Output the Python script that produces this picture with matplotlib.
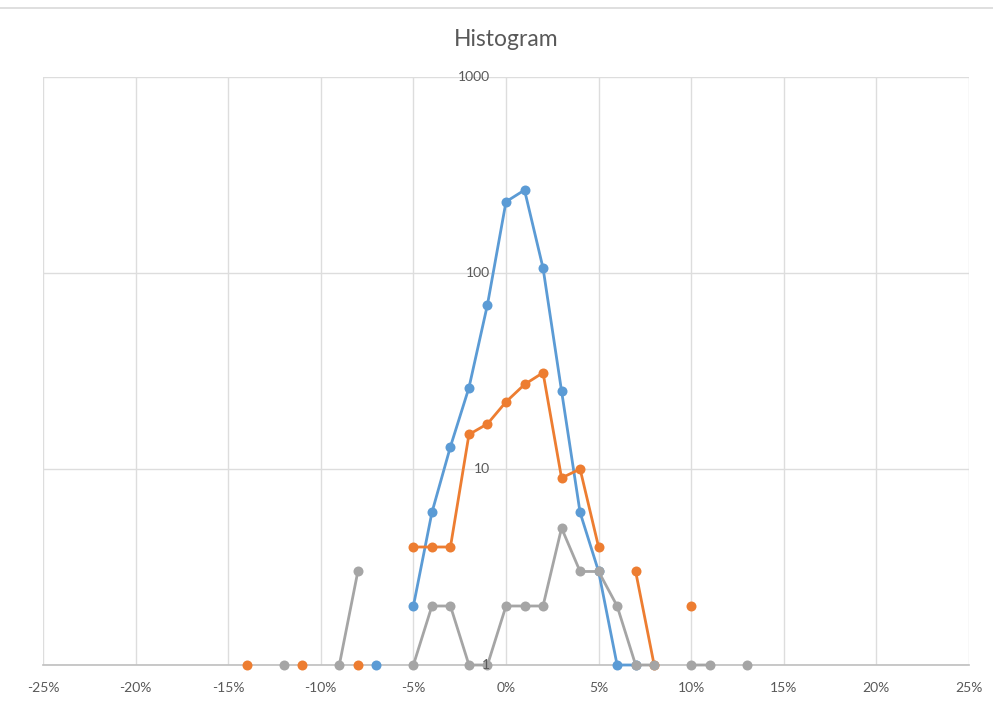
import matplotlib
matplotlib.use("Agg")
import matplotlib.pyplot as plt
import numpy as np
from matplotlib.ticker import PercentFormatter, FixedLocator, NullLocator
from matplotlib.lines import Line2D
import matplotlib.transforms as mtransforms

plt.rcParams['font.family'] = ['Lato', 'DejaVu Sans']
plt.rcParams['axes.unicode_minus'] = False

# ---- data (bins in %, counts; None = empty cell) ----
bins_pct = list(range(-14, 14))
blue_counts = {-7: 1, -5: 2, -4: 6, -3: 13, -2: 26, -1: 69, 0: 231, 1: 265, 2: 106,
               3: 25, 4: 6, 5: 3, 6: 1, 7: 1}
orange_counts = {-14: 1, -11: 1, -8: 1, -5: 4, -4: 4, -3: 4, -2: 15, -1: 17, 0: 22,
                 1: 27, 2: 31, 3: 9, 4: 10, 5: 4, 7: 3, 8: 1, 10: 2}
gray_counts = {-12: 1, -9: 1, -8: 3, -5: 1, -4: 2, -3: 2, -2: 1, -1: 1, 0: 2, 1: 2,
               2: 2, 3: 5, 4: 3, 5: 3, 6: 2, 7: 1, 8: 1, 10: 1, 11: 1, 13: 1}
series_names = ["Series1", "Series2", "Series3"]
series_colors = ["#5B9BD5", "#ED7D31", "#A5A5A5"]
x_ticks_pct = [-25, -20, -15, -10, -5, 0, 5, 10, 15, 20, 25]
y_ticks = [1, 10, 100, 1000]
title = "Histogram"

fig = plt.figure(figsize=(9.93, 7.04), dpi=100)
ax = fig.add_axes([43/993, 1-665/704, (969-43)/993, (665-77)/704])

x = np.array(bins_pct) / 100.0
for name, data, col in zip(series_names, [blue_counts, orange_counts, gray_counts], series_colors):
    y = np.array([data.get(b, np.nan) for b in bins_pct], dtype=float)
    ax.plot(x, y, color=col, lw=2.0, marker='o', markersize=7.2,
            markeredgewidth=0, label=name, zorder=3, clip_on=False)

ax.set_yscale('log')
ax.set_ylim(1, 1000)
ax.set_xlim(-0.25, 0.25)
ax.xaxis.set_major_locator(FixedLocator(np.array(x_ticks_pct) / 100.0))
ax.xaxis.set_major_formatter(PercentFormatter(1.0, decimals=0))
ax.yaxis.set_major_locator(FixedLocator(y_ticks))
ax.yaxis.set_minor_locator(NullLocator())
ax.yaxis.set_ticklabels([])
ax.tick_params(axis='both', length=0)
ax.tick_params(axis='x', pad=12, labelsize=10, labelcolor='#595959')

ax.set_axisbelow(True)
ax.grid(True, which='major', color='#DDDDDD', lw=1.0)
for s in ['top', 'right', 'left']:
    ax.spines[s].set_visible(False)
ax.spines['bottom'].set_color('#BFBFBF')
ax.spines['bottom'].set_linewidth(1.2)
ax.spines['bottom'].set_zorder(2)

# y tick labels drawn next to the x=0 crossing
offs = mtransforms.offset_copy(ax.transData, fig=fig, x=-16, y=0, units='dots')
for t in y_ticks:
    ax.text(0, t, f"{t}", transform=offs, ha='right', va='center',
            fontsize=10, color='#595959', zorder=10)

ax.set_title(title, fontsize=16.5, color='#595959', pad=22)

fig.add_artist(Line2D([0, 1], [1-8/704, 1-8/704], transform=fig.transFigure,
                      color='#D9D9D9', lw=1.2))

fig.savefig("out.png", dpi=100, facecolor='white')
